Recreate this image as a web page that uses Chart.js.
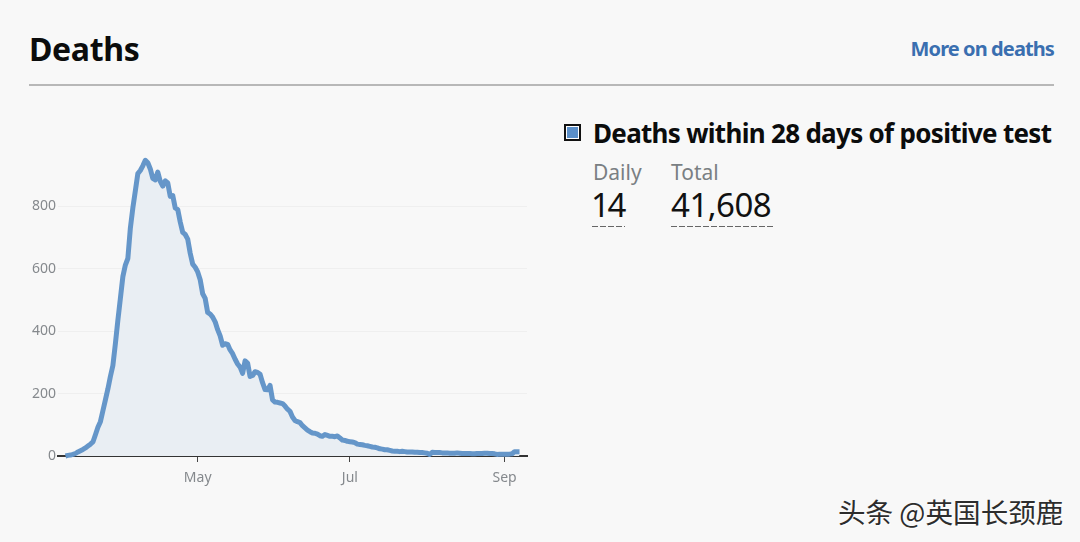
<!DOCTYPE html>
<html>
<head>
<meta charset="utf-8">
<title>Deaths</title>
<script src="https://cdn.jsdelivr.net/npm/chart.js@4"></script>
<style>
  html, body { margin: 0; padding: 0; background: #f8f8f8; }
  body { width: 1080px; height: 542px; position: relative; overflow: hidden; font-family: 'Noto Sans', sans-serif; color: #0b0c0c; }
  .abs { position: absolute; white-space: nowrap; line-height: 1; }
  #title { left: 29px; top: 33px; font-size: 32px; font-weight: 700; letter-spacing: -0.35px; }
  #more { right: 26px; top: 39px; font-size: 20px; font-weight: 700; color: #3a6fb0; letter-spacing: -0.9px; }
  #rule { left: 29px; top: 84px; width: 1025px; height: 2px; background: #b8b8b8; }
  #swatch { left: 564px; top: 124px; width: 13px; height: 13px; border: 2px solid #111; background: #5b8fc9; box-shadow: inset 0 0 0 1px #fff; }
  #legend { left: 593px; top: 120px; font-size: 26px; font-weight: 700; letter-spacing: -0.7px; }
  .lab { top: 162px; font-size: 21px; color: #7a7f83; }
  .num { top: 188px; font-size: 33px; color: #111; }
  .dash { top: 225.5px; height: 1px; background: repeating-linear-gradient(90deg, #666 0 6px, transparent 6px 8px); }
  #mark { left: 838px; top: 498px; font-size: 27.6px; color: #2d2d2d; font-family: 'Noto Sans CJK SC', sans-serif; text-shadow: 1px 1px 0 #fff; }
  #box { position: absolute; left: 0; top: 130px; width: 540px; height: 370px; }
</style>
</head>
<body>
<div class="abs" id="title">Deaths</div>
<div class="abs" id="more">More on deaths</div>
<div class="abs" id="rule"></div>
<div class="abs" id="swatch"></div>
<div class="abs" id="legend">Deaths within 28 days of positive test</div>
<div class="abs lab" style="left:593px">Daily</div>
<div class="abs lab" style="left:671px">Total</div>
<div class="abs num" style="left:591px;letter-spacing:-2.5px">14</div>
<div class="abs num" style="left:671px;letter-spacing:-0.5px">41,608</div>
<div class="abs dash" style="left:592px;width:33px"></div>
<div class="abs dash" style="left:671px;width:102px"></div>
<div class="abs" id="mark">头条 @英国长颈鹿</div>
<div id="box"><canvas id="deathsChart"></canvas></div>

<script>
// daily deaths, first entry is 6 March, nulls where nothing is drawn
var dailyDeaths = [
  null, null, null, 0, 2, 3, 5, 8, 13, 17, 21, 26, 32, 38, 45, 68, 92, 110, 145, 180,
  215, 255, 290, 360, 435, 505, 575, 612, 633, 730, 795, 850, 905, 915, 930, 948, 940, 920, 890, 885,
  910, 880, 865, 882, 875, 832, 835, 795, 790, 750, 717, 710, 695, 650, 615, 605, 590, 565, 520, 505,
  460, 455, 445, 430, 405, 385, 355, 360, 358, 340, 328, 310, 295, 285, 265, 305, 298, 255, 258, 270,
  268, 262, 235, 213, 212, 226, 180, 173, 172, 170, 168, 160, 150, 143, 125, 114, 110, 107, 97, 90,
  83, 78, 74, 73, 70, 65, 63, 69, 66, 63, 63, 62, 64, 58, 51, 50, 47, 46, 45, 43,
  38, 37, 36, 34, 33, 31, 29, 28, 26, 23, 22, 20, 20, 18, 16, 15, 15, 14, 15, 14,
  13, 13, 13, 12, 12, 11, 11, 10, 9, 5, 12, 11, 11, 11, 10, 10, 10, 9, 9, 9,
  10, 9, 8, 8, 8, 8, 7, 7, 8, 8, 8, 9, 9, 8, 8, 7, 5, 6, 6, 6,
  6, 6, 7, 14, 14, 14, null, null, null
];
var startDate = new Date(Date.UTC(2020, 2, 6));
var tickDates = { '2020-05-01': 'May', '2020-07-01': 'Jul', '2020-09-01': 'Sep' };
var yTicks = [0, 200, 400, 600, 800];

var dayLabels = dailyDeaths.map(function(v, i) {
    return new Date(startDate.getTime() + i * 86400000).toISOString().slice(0, 10);
});

new Chart(document.getElementById('deathsChart').getContext('2d'), {
    type: 'line',
    data: {
        labels: dayLabels,
        datasets: [{
            label: 'Deaths within 28 days of positive test',
            data: dailyDeaths,
            borderColor: '#6596c9',
            backgroundColor: '#e9eef3',
            fill: 'origin',
            tension: 0,
            pointRadius: 0,
            borderWidth: 5,
            borderJoinStyle: 'round',
            clip: false
        }]
    },
    options: {
        responsive: true,
        maintainAspectRatio: false,
        animation: false,
        layout: { padding: { top: 14, right: 13, left: 0, bottom: 0 } },
        plugins: { legend: { display: false }, tooltip: { enabled: false } },
        scales: {
            x: {
                grid: { drawOnChartArea: false, drawTicks: true, tickLength: 6, tickColor: '#444', tickWidth: 1 },
                border: { display: true, color: '#333', width: 2 },
                afterFit: function(scale) { scale.height = 44; },
                ticks: {
                    autoSkip: false,
                    maxRotation: 0,
                    padding: 8,
                    color: '#85898d',
                    font: { family: "'Noto Sans', sans-serif", size: 14 },
                    callback: function(v) { return tickDates[this.getLabelForValue(v)] || null; }
                }
            },
            y: {
                min: 0,
                max: 1000,
                afterBuildTicks: function(scale) {
                    scale.ticks = yTicks.map(function(v) { return { value: v }; });
                },
                afterFit: function(scale) { scale.width = 58; },
                grid: { color: '#efefef', drawTicks: false },
                border: { display: false },
                ticks: {
                    padding: 2,
                    color: '#85898d',
                    font: { family: "'Noto Sans', sans-serif", size: 14 }
                }
            }
        }
    }
});
</script>
</body>
</html>
